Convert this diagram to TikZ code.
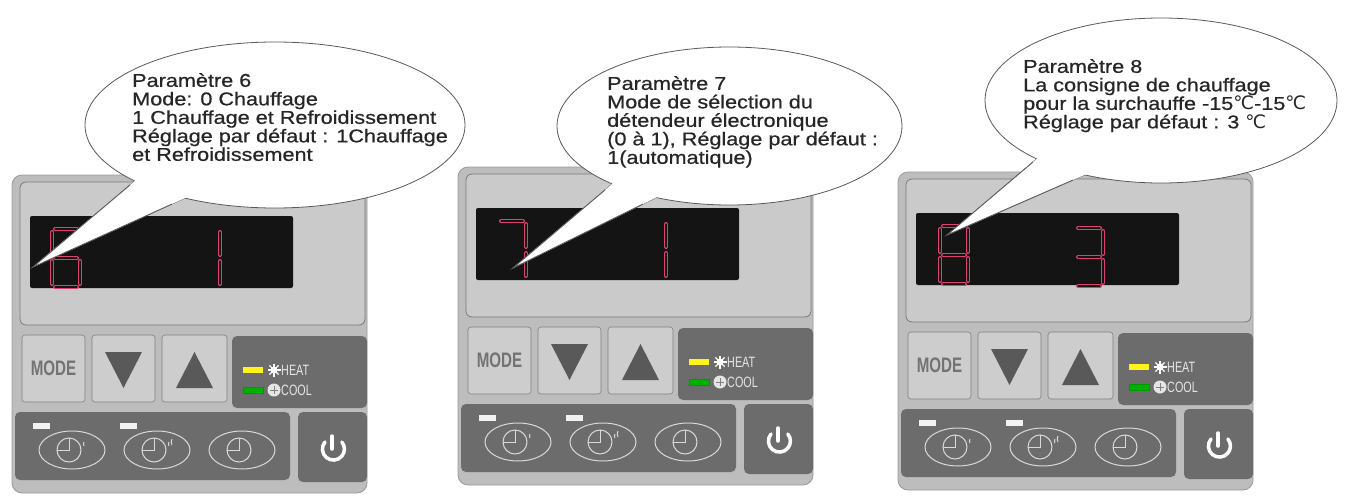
\documentclass[tikz,border=0pt]{standalone}
\usepackage{fontspec}
\setmainfont{Liberation Sans}
\newfontfamily\bubfont{Liberation Sans}[FakeStretch=1.17,FakeBold=0.6]
\newfontfamily\narrowfont{Liberation Sans}[FakeStretch=0.72]
\newfontfamily\degfont{DejaVu Sans}
\usetikzlibrary{calc}
\definecolor{outergray}{HTML}{BDBDBD}
\definecolor{framegray}{HTML}{CACACA}
\definecolor{btngray}{HTML}{CDCDCD}
\definecolor{darkgray}{HTML}{6C6C6C}
\definecolor{segred}{HTML}{E0406E}
\definecolor{txtgray}{HTML}{262626}
\tikzset{
 outerpanel/.style={fill=outergray,draw=gray!80,line width=0.8pt,rounded corners=10pt},
 framepanel/.style={fill=framegray,draw=gray!95!black,line width=0.8pt,rounded corners=6pt},
 displayblk/.style={fill=black!92,rounded corners=2pt},
 btn/.style={fill=btngray,draw=gray,line width=0.6pt,rounded corners=3pt},
 tri/.style={fill=black!65},
 darkblk/.style={fill=darkgray,rounded corners=5pt},
 modetxt/.style={font=\narrowfont\bfseries\fontsize{21}{21}\selectfont,text=black!55,inner sep=0},
 ledtxt/.style={font=\narrowfont\fontsize{15}{15}\selectfont,text=white!90!black,inner sep=0,anchor=west},
 digitred/.style={draw=segred,line width=4pt,line cap=round},
 digitin/.style={draw=black!92,line width=1.2pt,line cap=round},
 timer/.style={draw=white!85!black,line width=1pt},
 bubble/.style={draw=black!65,line width=0.8pt},
 bubtxt/.style={font=\bubfont\fontsize{18.5}{18.5}\selectfont,text=txtgray,align=left,anchor=north west,inner sep=0}
}
\def\segA{(3,0)--(25,0)}
\def\segB{(28,3)--(28,26)}
\def\segC{(28,32)--(28,55)}
\def\segD{(3,58)--(25,58)}
\def\segE{(0,32)--(0,55)}
\def\segF{(0,3)--(0,26)}
\def\segG{(3,29)--(25,29)}
\newcommand\sevenseg[3]{%
 \begin{scope}[shift={(#1,#2)}]
 \foreach \s in {#3}{\draw[digitred] \csname seg\s\endcsname;}
 \foreach \s in {#3}{\draw[digitin] \csname seg\s\endcsname;}
 \end{scope}}
\newcommand\timerglyph[3]{%
 \draw[timer] (#1,#2) ellipse (33 and 19);
 \draw[timer] (#1-3,#2) circle (12);
 \draw[timer] (#1-3,#2-12) -- (#1-3,#2) -- (#1-15,#2);
 \ifnum#3>0 \draw[timer] (#1+12,#2-4) arc (-30:30:-4);\fi
 \ifnum#3>1 \draw[timer] (#1+15,#2-5) arc (-30:30:-6);\fi}
\newcommand\ctrlpanel[5]{%
 \begin{scope}[shift={(#1,#2)}]
 \draw[outerpanel] (0,0) rectangle (355,318);
 \draw[framepanel] (8,7) rectangle (353,150);
 \fill[displayblk] (18,41) rectangle (281,113);
 \draw[btn] (10,160) rectangle (73,227);
 \node[modetxt] (#3mode) at (41.5,193.5) {MODE};
 \draw[btn] (80,160) rectangle (143,227);
 \fill[tri] (93,177) -- (130,177) -- (111.5,213) -- cycle;
 \draw[btn] (150,160) rectangle (215,227);
 \fill[tri] (164,213) -- (201,213) -- (182.5,177) -- cycle;
 \fill[darkblk] (220,161) rectangle (355,233);
 \fill[yellow!90!white] (231,192) rectangle (251,198);
 \draw[green!60!black,fill=green!70!black] (231,212) rectangle (251,218);
 \foreach \a in {0,45,...,315}{\draw[white,line width=1.2pt] (262,195) -- ++(\a:6.5);}
 \fill[white] (262,195) circle (3.5);
 \fill[white!90!black] (262,215) circle (6.5);
 \draw[gray,line width=0.5pt] (258,215) -- (266,215) (262,211) -- (262,219);
 \node[ledtxt] (#3heat) at (269,195) {HEAT};
 \node[ledtxt] (#3cool) at (269,215) {COOL};
 \fill[darkblk] (3,237) rectangle (278,305);
 \fill[darkblk] (286,237) rectangle (355,307);
 \fill[white!95!black] (21,248) rectangle (38,254);
 \fill[white!95!black] (108,248) rectangle (125,254);
 \timerglyph{60}{275}{1}
 \timerglyph{145}{275}{2}
 \timerglyph{230}{275}{0}
 \draw[white,line width=3.5pt,line cap=round] (320,261) -- (320,274);
 \draw[white,line width=3.5pt,line cap=round] (313,267) arc (220:-40:11);
 #4
 #5
 \end{scope}}
\newcommand\speech[9]{%
 \coordinate (#8tip) at #5;
 \coordinate (#8ba) at #6;
 \coordinate (#8bb) at #7;
 \coordinate (#8ia) at ($(#8tip)!1.25!(#8ba)$);
 \coordinate (#8ib) at ($(#8tip)!1.25!(#8bb)$);
 \filldraw[bubble,fill=white] (#8ia) -- (#8tip) -- (#8ib);
 \fill[white] (#1,#2) ellipse (#3 and #4);
 \begin{scope}[even odd rule]
  \clip (#8tip) -- (#8ia) -- (#8ib) -- cycle (-10,-10) rectangle (1400,520);
  \draw[bubble] (#1,#2) ellipse (#3 and #4);
 \end{scope}
 \fill[white] (#8ia) -- (#8tip) -- (#8ib) -- cycle;
 \draw[bubble] (#8ba) -- (#8tip) -- (#8bb);
 #9}
\begin{document}
\begin{tikzpicture}[x=1pt,y=-1pt]
\useasboundingbox (0,0) rectangle (1353,498);
\fill[white] (0,0) rectangle (1353,498);
\ctrlpanel{12}{175}{p1}{\sevenseg{40}{54}{A,F,G,E,D,C}}{\sevenseg{180}{54}{B,C}}
\ctrlpanel{458}{167}{p2}{\sevenseg{40}{54}{A,B,C}}{\sevenseg{180}{54}{B,C}}
\ctrlpanel{898}{172}{p3}{\sevenseg{42}{54}{A,B,C,D,E,F,G}}{\sevenseg{177}{56}{A,B,G,C,D}}
\speech{275}{125}{190}{83}{(33,267)}{(130,185)}{(172,204)}{s1}{%
 \node[bubtxt] (t1) at (132,73) {Paramètre 6\\Mode: 0 Chauffage\\1 Chauffage et Refroidissement\\Réglage par défaut : 1Chauffage\\et Refroidissement};}
\speech{729.5}{126}{172.5}{79}{(513,268)}{(605,190)}{(643,204)}{s2}{%
 \node[bubtxt] (t2) at (607,76) {Paramètre 7\\Mode de sélection du\\détendeur électronique\\(0 à 1), Réglage par défaut :\\1(automatique)};}
\speech{1161}{100.5}{176}{82.5}{(947,235)}{(1033,162)}{(1073,180)}{s3}{%
 \node[bubtxt] (t3) at (1023,59) {Paramètre 8\\La consigne de chauffage\\pour la surchauffe -15{\degfont ℃}-15{\degfont ℃}\\Réglage par défaut : 3 {\degfont ℃}};}
\end{tikzpicture}
\end{document}
